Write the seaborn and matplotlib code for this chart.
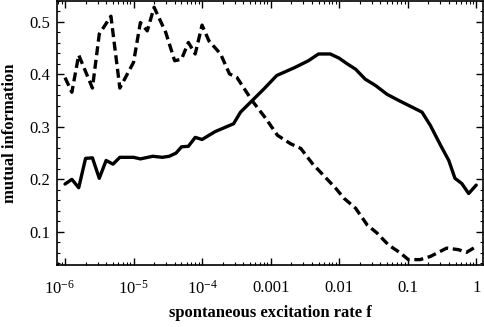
import numpy as np
import pandas as pd
import matplotlib
matplotlib.use("Agg")
import matplotlib.pyplot as plt
import matplotlib.transforms as mtransforms
import seaborn as sns
from matplotlib.ticker import FixedLocator, NullFormatter, MultipleLocator

# data (x as log10 of f)
solid_logf = [-6.0, -5.9, -5.8, -5.7, -5.6, -5.5, -5.4, -5.3, -5.2, -5.0, -4.9, -4.72, -4.58,
              -4.48, -4.38, -4.3, -4.2, -4.1, -4.0, -3.81, -3.54, -3.44, -3.27, -3.1, -2.91,
              -2.65, -2.45, -2.3, -2.13, -2.0, -1.88, -1.76, -1.62, -1.47, -1.3, -1.11, -0.91,
              -0.79, -0.67, -0.52, -0.4, -0.31, -0.21, -0.11, 0.0]
solid_mi = [0.191, 0.200, 0.184, 0.240, 0.241, 0.202, 0.236, 0.229, 0.242, 0.242, 0.239, 0.244, 0.242,
            0.244, 0.250, 0.262, 0.263, 0.280, 0.276, 0.291, 0.306, 0.328, 0.350, 0.372, 0.398,
            0.413, 0.426, 0.439, 0.439, 0.431, 0.420, 0.410, 0.391, 0.379, 0.362, 0.349, 0.336,
            0.328, 0.303, 0.265, 0.236, 0.202, 0.192, 0.173, 0.189]

dashed_logf = [-6.0, -5.9, -5.8, -5.6, -5.5, -5.33, -5.2, -5.0, -4.9, -4.8, -4.7, -4.53, -4.4,
               -4.3, -4.2, -4.1, -4.0, -3.9, -3.73, -3.6, -3.49, -3.27, -3.07, -2.9, -2.71,
               -2.56, -2.39, -2.05, -1.93, -1.76, -1.59, -1.45, -1.28, -1.11, -0.99, -0.82,
               -0.67, -0.43, -0.26, -0.14, 0.0]
dashed_mi = [0.394, 0.366, 0.437, 0.374, 0.477, 0.511, 0.374, 0.423, 0.499, 0.483, 0.528, 0.480, 0.426,
             0.429, 0.461, 0.439, 0.494, 0.464, 0.439, 0.401, 0.394, 0.350, 0.316, 0.284, 0.268,
             0.259, 0.230, 0.183, 0.164, 0.145, 0.113, 0.098, 0.075, 0.060, 0.047, 0.047,
             0.053, 0.069, 0.066, 0.061, 0.072]

xtick_vals = [1e-6, 1e-5, 1e-4, 1e-3, 1e-2, 1e-1, 1]
xtick_labels = ["10$^{-6}$", "10$^{-5}$", "10$^{-4}$", "0.001", "0.01", "0.1", "1"]
ytick_vals = [0.1, 0.2, 0.3, 0.4, 0.5]
ytick_labels = ["0.1", "0.2", "0.3", "0.4", "0.5"]

solid_df = pd.DataFrame({"f": 10.0 ** np.array(solid_logf), "mi": solid_mi})
dashed_df = pd.DataFrame({"f": 10.0 ** np.array(dashed_logf), "mi": dashed_mi})

sns.set_style("ticks")
plt.rcParams["font.family"] = ["Liberation Serif", "DejaVu Serif"]
plt.rcParams["mathtext.fontset"] = "custom"
plt.rcParams["mathtext.rm"] = "Liberation Serif"
plt.rcParams["mathtext.it"] = "Liberation Serif:italic"
for key in ["text.color", "axes.labelcolor", "xtick.color", "ytick.color", "axes.edgecolor"]:
    plt.rcParams[key] = "black"

fig = plt.figure(figsize=(4.85, 3.27), dpi=100)
ax = fig.add_axes([0.1175, 0.19, 0.8785, 0.807])

sns.lineplot(data=solid_df, x="f", y="mi", ax=ax, color="black", lw=2.4)
sns.lineplot(data=dashed_df, x="f", y="mi", ax=ax, color="black", lw=2.4)
ax.lines[1].set_dashes([2.7, 1.4])

ax.set_xscale("log")
ax.set_xlim(10 ** -6.117, 10 ** 0.10)
ax.set_ylim(0.037, 0.54)

ax.set_xticks(xtick_vals)
ax.set_xticklabels(xtick_labels)
ax.xaxis.set_minor_locator(FixedLocator([m * 10.0 ** e for e in range(-7, 1) for m in range(2, 10)]))
ax.xaxis.set_minor_formatter(NullFormatter())
ax.set_yticks(ytick_vals)
ax.set_yticklabels(ytick_labels)
ax.yaxis.set_minor_locator(MultipleLocator(0.02))

ax.tick_params(which="both", direction="in", top=True, right=True, color="black", labelcolor="black")
ax.tick_params(which="major", length=5, width=1, labelsize=12)
ax.tick_params(axis="x", which="major", pad=11)
ax.tick_params(axis="y", which="major", pad=5)
ax.tick_params(which="minor", length=2.5, width=0.8)
for s in ax.spines.values():
    s.set_linewidth(1.2)
    s.set_color("black")

# first x label sits a bit left of its tick in the original
first = ax.get_xticklabels()[0]
first.set_transform(first.get_transform() + mtransforms.ScaledTranslation(-6 / 100, 0, fig.dpi_scale_trans))

ax.set_xlabel("spontaneous excitation rate f", fontsize=12, fontweight="bold", va="center", color="black")
ax.xaxis.set_label_coords(0.5, -0.182)
ax.set_ylabel("mutual information", fontsize=12, fontweight="bold", va="center", color="black")
ax.yaxis.set_label_coords(-0.110, 0.5)

fig.savefig("out.png", dpi=100)
